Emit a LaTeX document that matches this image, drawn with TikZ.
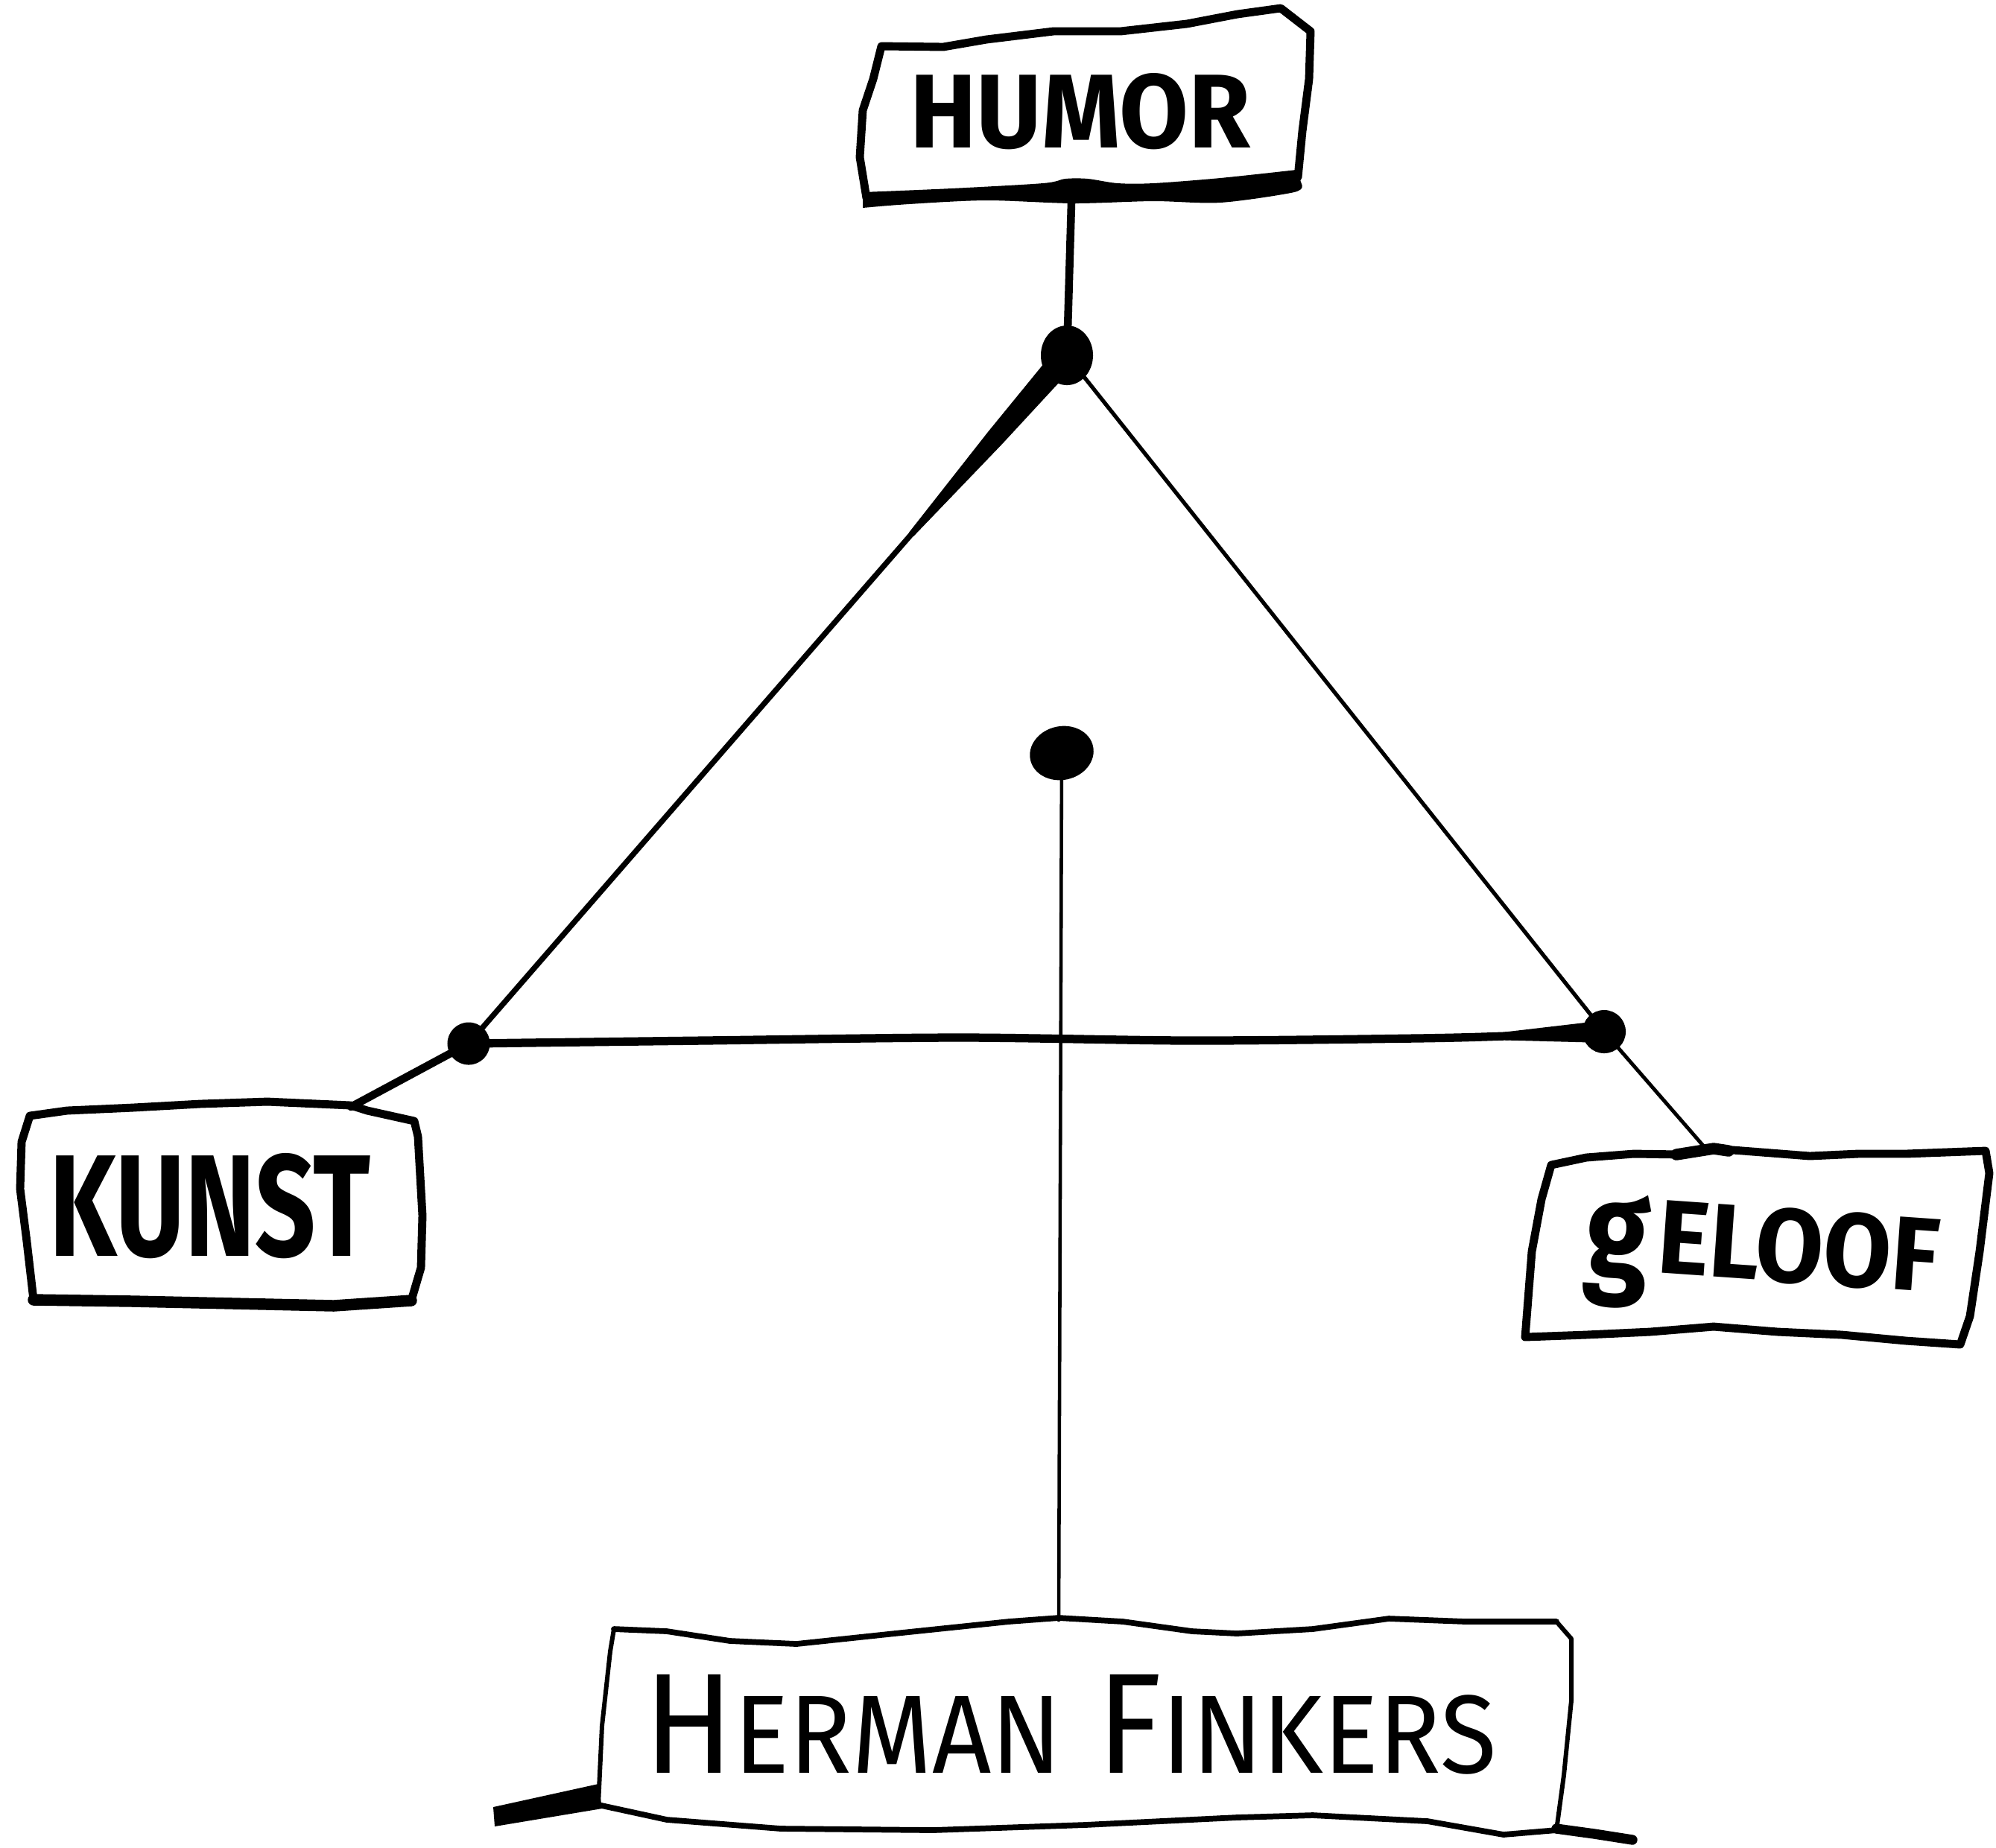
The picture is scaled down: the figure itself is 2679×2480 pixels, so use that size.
\documentclass[tikz,border=0pt]{standalone}
\usepackage{fontspec}
\setmainfont{Fira Sans}
\usetikzlibrary{shapes.geometric,calc}
\begin{document}
\begin{tikzpicture}[x=0.01cm,y=-0.01cm,
  ink/.style={draw=black, line join=round, line cap=round},
  boxedge/.style={ink, line width=3.1pt},
  heavyedge/.style={ink, line width=4.4pt},
  hermanedge/.style={ink, line width=2.2pt},
  hermanside/.style={ink, line width=1.7pt},
  thinlink/.style={ink, line width=1.4pt},
  thicklink/.style={ink, line width=3.0pt},
  dot/.style={circle, fill=black, draw=none, inner sep=0pt},
  lbl/.style={inner sep=0pt, text=black},
]
\fill[white] (0,0) rectangle (2679,2480);
\useasboundingbox (0,0) rectangle (2679,2480);

% ---------- boxes ----------
% HUMOR
\draw[boxedge] (1163,266) -- (1154,211) -- (1158,148) -- (1172,106) -- (1183,62)
  -- (1266,63) -- (1324,53) -- (1414,42) -- (1504,42) -- (1593,32) -- (1661,19) -- (1719,11)
  -- (1759,42) -- (1757,106) -- (1748,176) -- (1742,238);
\fill[line join=round] plot[smooth, tension=0.5] coordinates
  {(1158,258) (1277,253) (1400,246) (1430,240) (1460,240) (1500,246) (1548,246) (1638,239) (1740,228)}
  -- plot[smooth, tension=0.5] coordinates
  {(1747,247) (1737,258) (1638,272) (1548,270) (1441,273) (1324,269) (1220,274) (1158,279)} -- cycle;

% KUNST
\draw[boxedge] (40,1498) -- (90,1491) -- (179,1487) -- (269,1482) -- (359,1479) -- (471,1484)
  -- (493,1491) -- (556,1505) -- (561,1526) -- (567,1632) -- (565,1702) -- (552,1746);
\draw[heavyedge] (552,1746) -- (448,1753) -- (314,1750) -- (179,1747) -- (45,1745);
\draw[boxedge] (45,1745) -- (36,1667) -- (27,1596) -- (29,1533) -- (40,1498);

% GELOOF
\draw[boxedge] (2082,1564) -- (2129,1554) -- (2193,1549) -- (2258,1550) -- (2300,1542)
  -- (2365,1547) -- (2429,1552) -- (2494,1549) -- (2558,1549) -- (2665,1545)
  -- (2670,1575) -- (2657,1680) -- (2644,1767) -- (2631,1805)
  -- (2558,1800) -- (2472,1792) -- (2386,1788) -- (2300,1781) -- (2215,1788)
  -- (2129,1792) -- (2047,1795) -- (2056,1680) -- (2069,1610) -- cycle;
\draw[ink, line width=4.4pt] (2250,1550) -- (2300,1542) -- (2320,1545);

% HERMAN FINKERS
\draw[hermanedge] (824,2187) -- (895,2190) -- (980,2203) -- (1069,2207) -- (1201,2193)
  -- (1354,2177) -- (1421,2172) -- (1507,2177) -- (1600,2190) -- (1660,2193)
  -- (1762,2187) -- (1864,2173) -- (1967,2177) -- (2089,2177);
\draw[hermanside] (2089,2177) -- (2109,2200) -- (2109,2283) -- (2099,2383) -- (2089,2457);
\draw[hermanedge] (2089,2457) -- (2018,2463) -- (1916,2445) -- (1762,2437) -- (1660,2440)
  -- (1456,2450) -- (1252,2457) -- (1048,2455) -- (895,2443) -- (803,2423);
\draw[hermanside] (803,2423) -- (808,2317) -- (819,2217) -- (824,2187);
% ground strokes
\fill (662,2426) -- (803,2395) -- (808,2428) -- (664,2452) -- cycle;
\draw[ink, line width=3.8pt] (2089,2455) -- (2140,2462) -- (2191,2470);

% ---------- labels ----------
\node[lbl] (humor) at (1450,150) {\resizebox{4.57cm}{1.0cm}{\bfseries HUMOR}};
\node[lbl] (kunst) at (282,1619) {\resizebox{4.31cm}{1.38cm}{\bfseries KUNST}};
\node[lbl, anchor=base west, rotate=-4] (geloof) at (2124,1702)
  {\raisebox{-0.1cm}{\resizebox*{0.86cm}{1.54cm}{\bfseries g}}\hspace{0.12cm}%
   \resizebox{3.78cm}{1.0cm}{\bfseries ELOOF}};
\node[lbl, anchor=base west] (herman) at (864,2380)
  {\resizebox{11.43cm}{1.32cm}{H\scalebox{0.78}{ERMAN} F\scalebox{0.78}{INKERS}}};

% ---------- dots ----------
\node[dot, ellipse, minimum width=0.70cm, minimum height=0.80cm] (dtop) at (1432,477) {};
\node[dot, minimum size=0.57cm] (dleft) at (629,1401) {};
\node[dot, minimum size=0.58cm] (dright) at (2153,1385) {};
\node[dot, ellipse, minimum width=0.86cm, minimum height=0.72cm, rotate=12] (dcenter) at (1425,1011) {};

% ---------- attach points ----------
\coordinate (humorA) at (1438,272);
\coordinate (kunstA) at (471,1486);
\coordinate (geloofA) at (2292,1545);
\coordinate (hermanA) at (1421,2175);
\coordinate (baseB) at (2020,1391);

% ---------- connectors ----------
% HUMOR -> top dot
\draw[ink, line width=3.0pt] (humorA) -- (dtop.center);

% left side of triangle, with a thick tapered start at the top dot
\draw[ink, line width=2.1pt] (dtop.center) -- (dleft.center);
\coordinate (lw1) at ($(dtop.center)!0.12!(dleft.center)$);
\coordinate (lw2) at ($(dtop.center)!0.26!(dleft.center)$);
\fill ($(dtop.center)!0.17cm!90:(dleft.center)$)
   -- ($(lw1)!0.125cm!90:(dleft.center)$)
   -- ($(lw2)!0.04cm!-90:(dtop.center)$)
   -- ($(lw2)!0.04cm!90:(dtop.center)$)
   -- ($(lw1)!0.125cm!-90:(dleft.center)$)
   -- ($(dtop.center)!0.17cm!-90:(dleft.center)$) -- cycle;

% right side of triangle
\draw[ink, line width=1.5pt] (dtop.center) -- (dright.center);

% base of triangle, thickening into the right dot
\draw[ink, line width=3.2pt] plot[smooth, tension=0.5] coordinates
  {(dleft.center) (944,1397) (1289,1393) (1600,1397) (1900,1394) (baseB) (dright.center)};
\fill ($(dright.center)!0.15cm!90:(baseB)$)
   -- ($(baseB)!0.055cm!-90:(dright.center)$)
   -- ($(baseB)!0.055cm!90:(dright.center)$)
   -- ($(dright.center)!0.15cm!-90:(baseB)$) -- cycle;

% dots to labels
\draw[thicklink] (dleft.center) -- (kunstA);
\draw[thinlink] (dright.center) -- (geloofA);
\draw[ink, line width=1.3pt] (dcenter.center) -- (hermanA);
\end{tikzpicture}
\end{document}
